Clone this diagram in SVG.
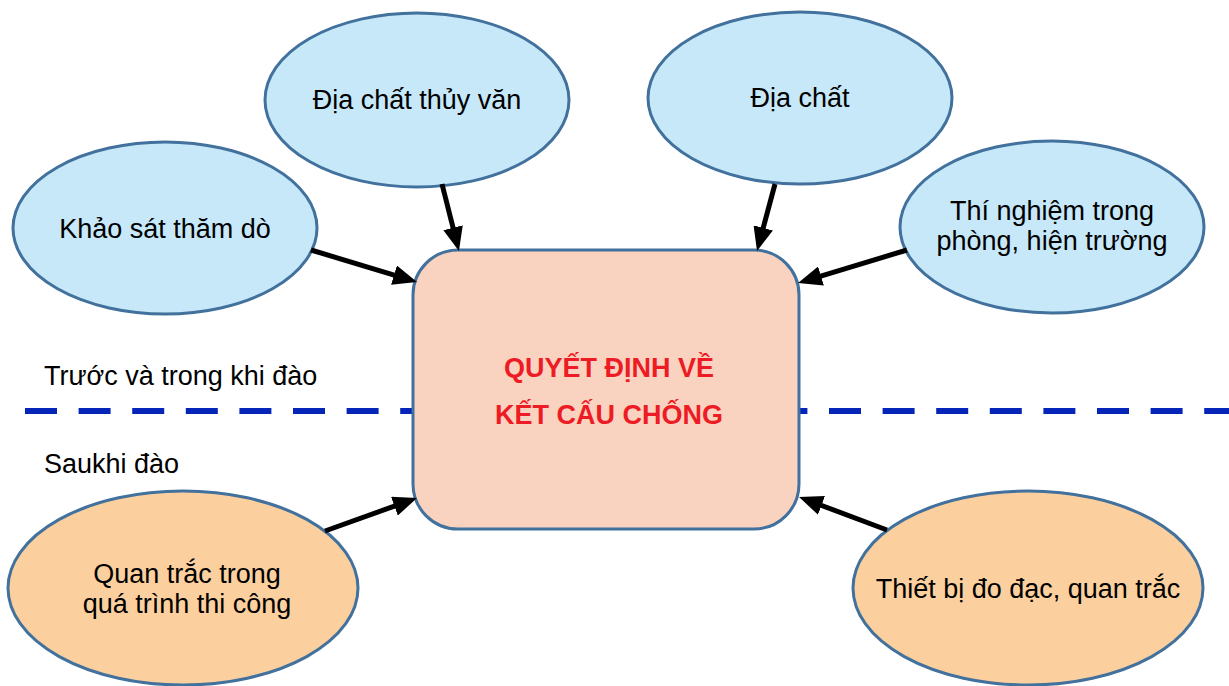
<svg xmlns="http://www.w3.org/2000/svg" width="1229" height="686" viewBox="0 0 1229 686">
<style>
text{font-family:"Liberation Sans",Arial,sans-serif;font-size:27px;fill:#000}
.lbl{text-anchor:middle}
.blue{fill:#c6e8f8;stroke:#41719c;stroke-width:3}
.orange{fill:#fcd09e;stroke:#41719c;stroke-width:3}
.center{fill:#fad3c0;stroke:#41719c;stroke-width:3}
.ctext{font-weight:bold;fill:#ed1c24;text-anchor:middle}
.arrow{stroke:#000;stroke-width:5;fill:none;marker-end:url(#ah)}
</style>
<defs>
<marker id="ah" markerUnits="userSpaceOnUse" markerWidth="24" markerHeight="20" refX="14" refY="10" orient="auto">
<path d="M0,0 L24,10 L0,20 z" fill="#000"/>
</marker>
</defs>
<rect width="1229" height="686" fill="#fff"/>
<line x1="25" y1="411" x2="1229" y2="411" stroke="#0525b8" stroke-width="6" stroke-dasharray="32 21.6"/>
<text x="44" y="385">Trước và trong khi đào</text>
<text x="44" y="473">Saukhi đào</text>
<g id="center">
<rect class="center" x="413" y="250" width="386" height="279" rx="45"/>
<text class="ctext" x="609" y="377">QUYẾT ĐỊNH VỀ</text>
<text class="ctext" x="609" y="424">KẾT CẤU CHỐNG</text>
</g>
<g id="khao-sat">
<ellipse class="blue" cx="165" cy="228" rx="152" ry="86"/>
<text class="lbl" x="165" y="238">Khảo sát thăm dò</text>
</g>
<g id="dia-chat-thuy-van">
<ellipse class="blue" cx="417" cy="100" rx="152" ry="87"/>
<text class="lbl" x="417" y="109">Địa chất thủy văn</text>
</g>
<g id="dia-chat">
<ellipse class="blue" cx="800" cy="98" rx="152" ry="86"/>
<text class="lbl" x="800" y="107">Địa chất</text>
</g>
<g id="thi-nghiem">
<ellipse class="blue" cx="1052" cy="227" rx="152" ry="86"/>
<text class="lbl" x="1052" y="220">Thí nghiệm trong</text>
<text class="lbl" x="1052" y="250">phòng, hiện trường</text>
</g>
<g id="quan-trac">
<ellipse class="orange" cx="183" cy="588" rx="175" ry="97"/>
<text class="lbl" x="187" y="583">Quan trắc trong</text>
<text class="lbl" x="187" y="613">quá trình thi công</text>
</g>
<g id="thiet-bi">
<ellipse class="orange" cx="1028" cy="588" rx="175" ry="97"/>
<text class="lbl" x="1028" y="598">Thiết bị đo đạc, quan trắc</text>
</g>
<g id="connectors">
<line class="arrow" x1="311" y1="250" x2="407.4" y2="279.1"/>
<line class="arrow" x1="442" y1="184" x2="456.5" y2="241.3"/>
<line class="arrow" x1="775" y1="184" x2="759.6" y2="241.4"/>
<line class="arrow" x1="907" y1="250" x2="807.6" y2="280.1"/>
<line class="arrow" x1="325" y1="531" x2="407.6" y2="501.4"/>
<line class="arrow" x1="887" y1="530" x2="808.4" y2="500.5"/>
</g>
</svg>
